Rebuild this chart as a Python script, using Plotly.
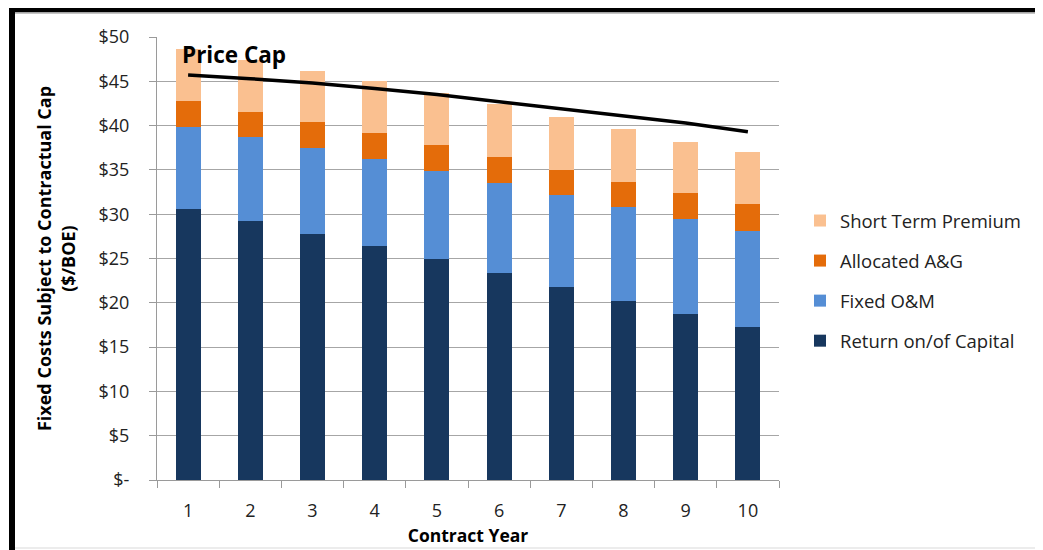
import plotly.graph_objects as go

years = [1, 2, 3, 4, 5, 6, 7, 8, 9, 10]
return_capital = [30.6, 29.2, 27.8, 26.4, 24.9, 23.4, 21.8, 20.2, 18.7, 17.3]
fixed_om = [9.2, 9.5, 9.7, 9.8, 10.0, 10.1, 10.4, 10.6, 10.8, 10.8]
allocated_ag = [3.0, 2.8, 2.9, 3.0, 2.9, 3.0, 2.8, 2.8, 2.9, 3.1]
short_term = [5.8, 5.9, 5.8, 5.8, 5.9, 5.9, 6.0, 6.0, 5.8, 5.8]
price_cap = [45.7, 45.3, 44.8, 44.2, 43.5, 42.7, 41.9, 41.1, 40.3, 39.3]
y_tick_vals = [0, 5, 10, 15, 20, 25, 30, 35, 40, 45, 50]
y_tick_text = ["$-", "$5", "$10", "$15", "$20", "$25", "$30", "$35", "$40", "$45", "$50"]

OFF = 8  # default body margin of the html page
W, H = 1043 - OFF, 550 - OFF
L, T = 157 - OFF, 37 - OFF
B = H - (480 - OFF)
R = W - (779 - OFF)
FONT = "Open Sans"

series = [
    ("Return on/of Capital", return_capital, "#17375E", 4),
    ("Fixed O&M", fixed_om, "#558ED5", 3),
    ("Allocated A&G", allocated_ag, "#E46C0A", 2),
    ("Short Term Premium", short_term, "#FAC090", 1),
]

fig = go.Figure()
for i, (name, vals, col, rank) in enumerate(series):
    fig.add_trace(go.Bar(
        x=years, y=vals, name=name, width=0.4,
        marker=dict(color=col, line=dict(width=0)),
        legendgroup=f"g{i}", legendrank=rank,
    ))

fig.add_trace(go.Scatter(
    x=years, y=price_cap, mode="lines", showlegend=False,
    line=dict(color="black", width=3.5),
))

pw = W - L - R
ph = H - T - B
def px(x):
    return (x - OFF - L) / pw
def py(y):
    return (H - B - (y - OFF)) / ph

shapes = [
    dict(type="line", xref="paper", yref="paper", x0=px(12), x1=px(12), y0=py(8), y1=py(560),
         line=dict(color="black", width=6)),
    dict(type="line", xref="paper", yref="paper", x0=px(9), x1=px(1050), y0=py(10), y1=py(10),
         line=dict(color="black", width=5)),
    dict(type="line", xref="paper", yref="paper", x0=px(15), x1=px(1050), y0=py(13), y1=py(13),
         line=dict(color="#b0b0b0", width=1.5)),
    dict(type="line", xref="paper", yref="paper", x0=px(15), x1=px(1050), y0=py(548), y1=py(548),
         line=dict(color="#ececec", width=2)),
]

fig.update_layout(
    width=W, height=H,
    margin=dict(l=L, r=R, t=T, b=B, autoexpand=False),
    barmode="stack",
    paper_bgcolor="white", plot_bgcolor="white",
    font=dict(family=FONT, size=17, color="#222222"),
    showlegend=True,
    legend=dict(
        traceorder="grouped", tracegroupgap=13,
        x=px(800), xanchor="left", y=py(281), yanchor="middle",
        font=dict(family=FONT, size=18.5, color="#222222"),
        bgcolor="rgba(0,0,0,0)",
    ),
    shapes=shapes,
    annotations=[
        dict(text="<b>Price Cap</b>", x=0.87, y=48.0, xref="x", yref="y",
             xanchor="left", yanchor="middle", showarrow=False,
             font=dict(family=FONT, size=22.5, color="black")),
    ],
)

fig.update_xaxes(
    range=[0.5, 10.5], tickmode="array", tickvals=years,
    ticktext=[str(v) for v in years],
    ticks="", showgrid=False, zeroline=False,
    showline=True, linecolor="#9a9a9a", linewidth=1,
    ticklabelstandoff=14,
    minor=dict(ticks="outside", ticklen=7, tick0=0.5, dtick=1, tickcolor="#9a9a9a", showgrid=False),
    title=dict(text="<b>Contract Year</b>", font=dict(family=FONT, size=17.5, color="black"), standoff=9),
    tickfont=dict(family=FONT, size=18, color="#222222"),
)
fig.update_yaxes(
    range=[0, 50], tickmode="array", tickvals=y_tick_vals, ticktext=y_tick_text,
    ticks="outside", ticklen=7, tickcolor="#9a9a9a",
    showgrid=True, gridcolor="#a6a6a6", gridwidth=1,
    zeroline=False, showline=True, linecolor="#9a9a9a", linewidth=1,
    ticklabelstandoff=16,
    title=dict(text="<b>Fixed Costs Subject to Contractual Cap<br>($/BOE)</b>",
               font=dict(family=FONT, size=18, color="black"), standoff=18),
    tickfont=dict(family=FONT, size=18, color="#222222"),
)

fig.write_html("out.html")
